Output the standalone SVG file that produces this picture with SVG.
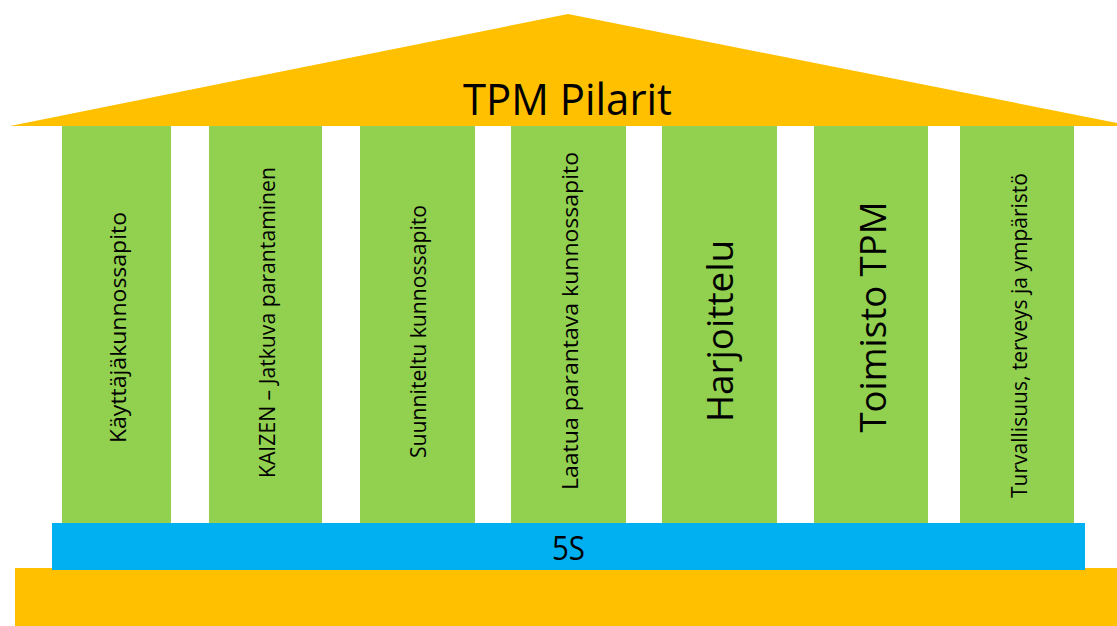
<svg xmlns="http://www.w3.org/2000/svg" width="1117" height="626" viewBox="0 0 1117 626">
<style>
.roof{fill:#FFC000}
.base{fill:#FFC000}
.pillar{fill:#92D050}
.band{fill:#00B0F0}
.t{font-family:"Open Sans","Liberation Sans",sans-serif;fill:#000}
.s{font-size:22px}
.l{font-size:37px}
</style>
<rect width="1117" height="626" fill="#fff"/>
<g id="roof">
<polygon class="roof" points="10,126 568,14 1117,123 1117,126"/>
<text class="t" x="567.5" y="115" font-size="43" text-anchor="middle" textLength="209" lengthAdjust="spacingAndGlyphs">TPM Pilarit</text>
</g>
<g id="base">
<rect class="base" x="15" y="568" width="1102" height="58"/>
</g>
<g id="pillar1">
<rect class="pillar" x="62" y="126" width="109" height="397"/>
<text class="t s" transform="translate(126,327.5) rotate(-90)" text-anchor="middle" textLength="231" lengthAdjust="spacingAndGlyphs">Käyttäjäkunnossapito</text>
</g>
<g id="pillar2">
<rect class="pillar" x="209" y="126" width="113" height="397"/>
<text class="t s" transform="translate(274.5,322.5) rotate(-90)" text-anchor="middle" textLength="311" lengthAdjust="spacingAndGlyphs">KAIZEN – Jatkuva parantaminen</text>
</g>
<g id="pillar3">
<rect class="pillar" x="360" y="126" width="115" height="397"/>
<text class="t s" transform="translate(426,331.5) rotate(-90)" text-anchor="middle" textLength="253" lengthAdjust="spacingAndGlyphs">Suunniteltu kunnossapito</text>
</g>
<g id="pillar4">
<rect class="pillar" x="511" y="126" width="115" height="397"/>
<text class="t s" transform="translate(578,321) rotate(-90)" text-anchor="middle" textLength="338" lengthAdjust="spacingAndGlyphs">Laatua parantava kunnossapito</text>
</g>
<g id="pillar5">
<rect class="pillar" x="662" y="126" width="115" height="397"/>
<text class="t l" transform="translate(733,331) rotate(-90)" text-anchor="middle" textLength="182" lengthAdjust="spacingAndGlyphs">Harjoittelu</text>
</g>
<g id="pillar6">
<rect class="pillar" x="814" y="126" width="114" height="397"/>
<text class="t l" transform="translate(885.5,317) rotate(-90)" text-anchor="middle" textLength="231" lengthAdjust="spacingAndGlyphs">Toimisto TPM</text>
</g>
<g id="pillar7">
<rect class="pillar" x="960" y="126" width="114" height="397"/>
<text class="t s" transform="translate(1026.5,335.5) rotate(-90)" text-anchor="middle" textLength="325" lengthAdjust="spacingAndGlyphs">Turvallisuus, terveys ja ympäristö</text>
</g>
<g id="band5S">
<rect class="band" x="52" y="523" width="1033" height="47"/>
<text class="t" x="568.5" y="560" font-size="33" text-anchor="middle" textLength="33" lengthAdjust="spacingAndGlyphs">5S</text>
</g>
<g id="connectors"/>
</svg>
